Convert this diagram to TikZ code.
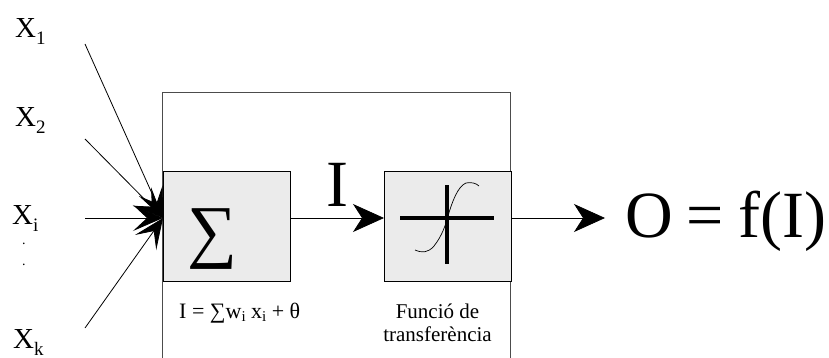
\documentclass[tikz,border=0pt]{standalone}
\usepackage{fontspec}
\setmainfont{Liberation Serif}
\usetikzlibrary{arrows.meta}
\newcommand{\fsz}[1]{\fontsize{#1}{#1}\selectfont}
\newcommand{\varsub}[2]{\fsz{29}#1\raisebox{-7pt}{\fsz{19}#2}}
\tikzset{
  x=1pt,y=-1pt,
  thin line/.style={line width=0.8pt,black},
  frame line/.style={line width=0.9pt,black!70},
  block/.style={draw=black,fill=black!8,line width=0.9pt,inner sep=0pt,anchor=north west},
  flow/.style={thin line,-{Stealth[length=31pt,width=28pt,inset=9pt]}},
  inflow/.style={thin line,-{Stealth[length=30pt,width=26pt,inset=14pt]}},
  txt/.style={inner sep=0pt,anchor=base west},
  ctxt/.style={inner sep=0pt,anchor=base,font=\fsz{21}},
}
\begin{document}
\begin{tikzpicture}
\useasboundingbox (0,0) rectangle (829,358);
% outer frame, open at the bottom
\coordinate (fbl) at (162.5,358);
\coordinate (fbr) at (510.5,358);
\draw[frame line] (fbl) -- (162.5,92) -- (510.5,92) -- (fbr);
% input ends
\coordinate (in1) at (85,44);
\coordinate (in2) at (85,139);
\coordinate (in3) at (85,218);
\coordinate (in4) at (85,328);
\coordinate (conv) at (163,218);
\foreach \n in {1,2,3,4} \draw[inflow] (in\n) -- (conv);
% blocks
\node[block,minimum width=127pt,minimum height=110pt] (sum) at (162.5,171) {};
\node[block,minimum width=127pt,minimum height=110pt] (tf) at (384,171) {};
\coordinate (sumE) at (sum.east|-conv);
\coordinate (tfW) at (tf.west|-conv);
\coordinate (tfE) at (tf.east|-conv);
\coordinate (out) at (605,218);
\draw[flow] (sumE) -- (tfW);
\draw[flow] (tfE) -- (out);
% sigma
\node[inner sep=0pt,anchor=base] (sg) at (212,254) {\fsz{70}∑};
% transfer symbol
\coordinate (h1) at (400,218);
\coordinate (h2) at (494,218);
\coordinate (v1) at (447,185);
\coordinate (v2) at (447,264);
\draw[line width=3.6pt] (h1) -- (h2);
\draw[line width=3.6pt] (v1) -- (v2);
\draw[line width=0.7pt] (415,250) .. controls (422,253) and (428,253) .. (434,246)
  .. controls (442,236) and (446,224) .. (448,216)
  .. controls (452,202) and (458,186) .. (466,183)
  .. controls (471,182) and (476,183) .. (479,186);
% labels
\node[txt] (x1) at (15,37.5) {\varsub{X}{1}};
\node[txt] (x2) at (15,127) {\varsub{X}{2}};
\node[txt] (xi) at (12,224) {\varsub{X}{i}};
\node[txt] (xk) at (13,348) {\varsub{X}{k}};
\node[txt] (d1) at (22,244) {\fsz{14}.};
\node[txt] (d2) at (22,265) {\fsz{14}.};
\node[txt] (ilab) at (326,206) {\fsz{66}I};
\node[txt] (olab) at (625,237) {\fsz{66}O\hspace{14pt}=\hspace{14pt}f(I)};
\node[txt] (eq) at (179,318) {\fsz{22}I = ∑w\raisebox{-3pt}{\fsz{15}i} x\raisebox{-3pt}{\fsz{15}i} + θ};
\node[ctxt] (f1) at (437.5,318) {Funció de};
\node[ctxt] (f2) at (437.5,341) {transferència};
\end{tikzpicture}
\end{document}
